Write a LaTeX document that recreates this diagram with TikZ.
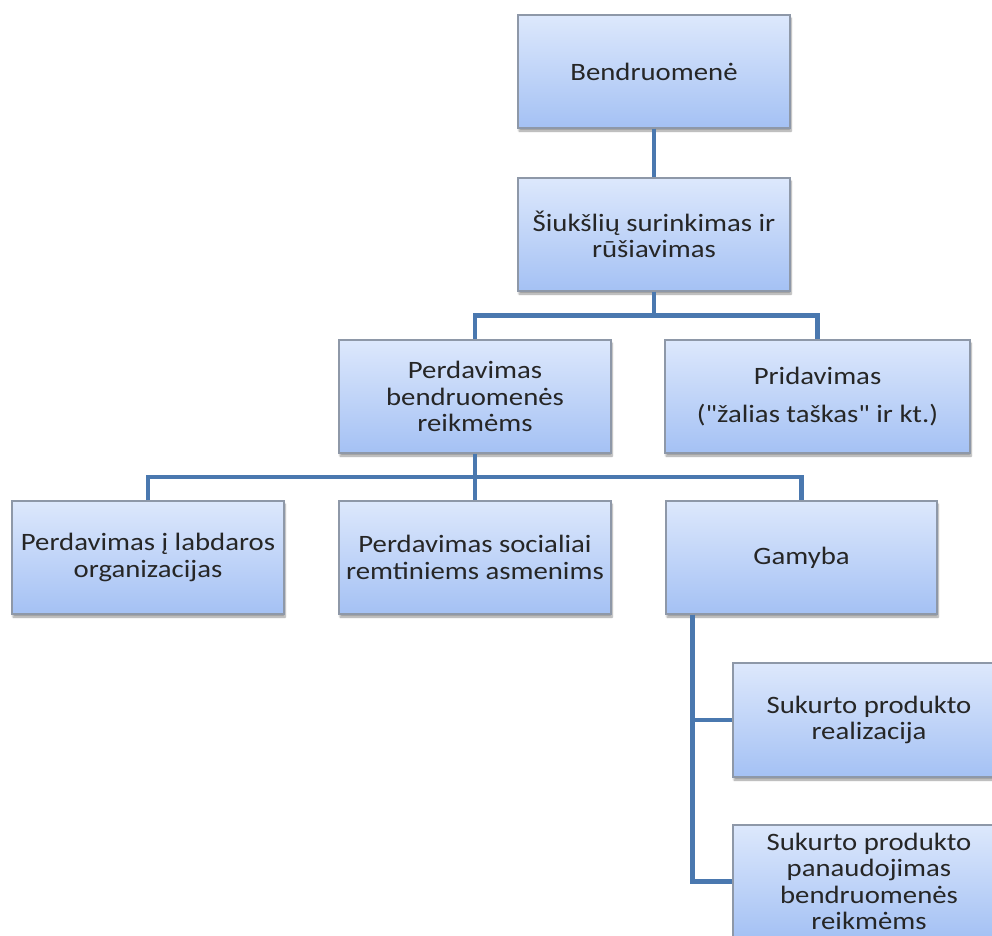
\documentclass[tikz,border=0pt]{standalone}
\usepackage{fontspec}
\setmainfont{Carlito}[FakeStretch=1.15,Ligatures=TeXOff]
\usetikzlibrary{calc}
\usetikzlibrary{shadows.blur}
\definecolor{linkblue}{HTML}{4A78AF}
\definecolor{boxtop}{HTML}{DDE8FC}
\definecolor{boxbottom}{HTML}{A4C1F4}
\definecolor{boxedge}{HTML}{8E98A8}
\tikzset{
% Two styles: the boxes and the connectors between them
org box/.style={rectangle,draw=boxedge,line width=1.2pt,top color=boxtop,bottom color=boxbottom,minimum width=272pt,minimum height=113pt,align=center,inner sep=2pt,text=black!85,blur shadow={shadow xshift=1pt,shadow yshift=-3pt,shadow blur steps=6,shadow opacity=40}},
org link/.style={draw=linkblue,line width=4.5pt}
}

\begin{document}
\begin{tikzpicture}[x=1pt,y=-1pt,font=\fontsize{25}{26.5}\selectfont]
		\useasboundingbox (0,0) rectangle (992,935);
		% The boxes
		\node(bend)[org box] at (654,71.5) {Bendruomenė};
		\node(siuk)[org box] at (654,234.5) {Šiukšlių surinkimas ir\\rūšiavimas};
		\node(perd)[org box] at (475,396.5) {Perdavimas\\bendruomenės\\reikmėms};
		\node(prid)[org box,minimum width=305pt] at (817.5,396.5) {Pridavimas\\[11pt]("žalias taškas" ir kt.)};
		\node(labd)[org box] at (148,557.5) {Perdavimas į labdaros\\organizacijas};
		\node(soc)[org box] at (475,557.5) {Perdavimas socialiai\\remtiniems asmenims};
		\node(gam)[org box,minimum width=271pt] at (801.5,557.5) {Gamyba};
		\node(real)[org box,minimum height=114pt] at (869,720) {Sukurto produkto\\realizacija};
		\node(pan)[org box] at (869,881.5) {Sukurto produkto\\panaudojimas\\bendruomenės\\reikmėms};
		% Level 1
		\draw[org link] (bend.south) -- (siuk.north);
		% Level 2
		\coordinate (split1) at ($(siuk.south)+(0,24)$);
		\draw[org link] (siuk.south) -- (split1);
		\draw[org link] (perd.north) |- (split1) -| (prid.north);
		% Level 3
		\coordinate (split2) at ($(perd.south)!.5!(soc.north)$);
		\draw[org link] (perd.south) -- (soc.north);
		\draw[org link] (labd.north) |- (split2) -| (gam.north);
		% Gamyba branches
		\coordinate (trunk) at ($(gam.south west)+(27,0)$);
		\draw[org link] (trunk) |- (real.west);
		\draw[org link] (trunk) |- (pan.west);
	\end{tikzpicture}
\end{document}
